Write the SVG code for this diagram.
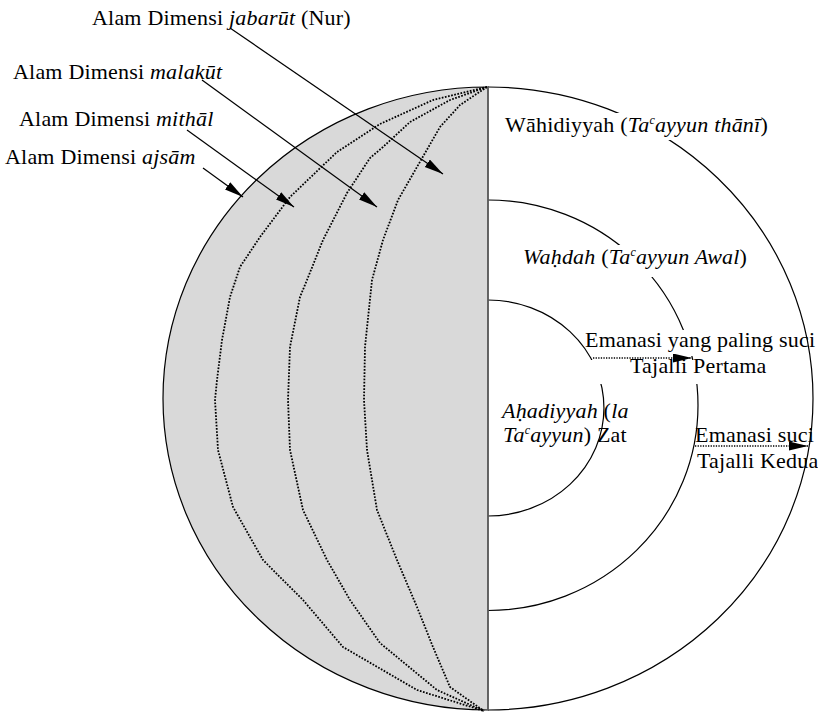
<svg xmlns="http://www.w3.org/2000/svg" width="818" height="713" viewBox="0 0 818 713">
<defs>
<marker id="ah" markerUnits="userSpaceOnUse" markerWidth="22" markerHeight="10" refX="19" refY="4.5" orient="auto" viewBox="0 0 22 10"><path d="M0,0 L19,4.5 L0,9 Z" fill="#000"/></marker>
</defs>
<style>
.t{font-family:'Liberation Serif','DejaVu Serif',serif;font-size:22px;fill:#000;letter-spacing:0.2px}
.i{font-style:italic}
.arc{fill:none;stroke:#000;stroke-width:1.2}
.dot{fill:none;stroke:#000;stroke-width:1.8;stroke-dasharray:1.7 1.5}
.lead{stroke:#000;stroke-width:1.2;fill:none;marker-end:url(#ah)}
.dlead{stroke:#000;stroke-width:1.3;stroke-dasharray:1.3 1.3;fill:none;marker-end:url(#ah)}
.mask{fill:#fff}
</style>
<rect width="818" height="713" fill="#fff"/>
<g id="alam">
<path d="M488,87 A325,311.5 0 0 0 488,710 Z" fill="#d9d9d9" stroke="#000" stroke-width="1.2"/>
<path class="dot" d="M487,87 L433,100 L380,124 L337,152 L290,197 L260,237 L240,267 L230,297 L222,340 L217,380 L215,400 L218,450 L233,507 L263,560 L303,600 L343,647 L417,690 L484,711"/>
<path class="dot" d="M487,87 L450,100 L410,122 L383,147 L370,158 L347,193 L323,240 L307,280 L300,297 L290,347 L288,400 L290,450 L303,510 L327,560 L350,600 L380,643 L437,690 L484,711"/>
<path class="dot" d="M487,87 L460,105 L440,127 L417,167 L398,200 L383,240 L372,280 L365,347 L364,400 L367,450 L377,510 L397,560 L417,607 L433,647 L450,687 L484,711"/>
</g>
<g id="ahadiyyah">
<path class="arc" d="M488,300 A116,108 0 0 1 488,516"/>
</g>
<g id="wahdah">
<path class="arc" d="M488,200 A210,205.25 0 0 1 488,610.5"/>
<rect class="mask" x="515" y="245" width="243" height="32"/>
</g>
<g id="emanasi1-bg">
<rect class="mask" x="590" y="330" width="210" height="26"/>
<rect class="mask" x="590" y="360" width="210" height="24"/>
</g>
<g id="wahidiyyah">
<path class="arc" d="M488,87 A325,311.5 0 0 1 488,710"/>
<rect class="mask" x="500" y="113" width="280" height="27"/>
</g>
<line id="axis" x1="488" y1="87" x2="488" y2="710" stroke="#666" stroke-width="1.6"/>
<g id="connectors">
<line class="lead" x1="230" y1="28" x2="443" y2="174"/>
<line class="lead" x1="202" y1="80" x2="377" y2="207"/>
<line class="lead" x1="187" y1="130" x2="294" y2="207"/>
<line class="lead" x1="203" y1="168" x2="243" y2="197"/>
<line class="dlead" x1="593" y1="358" x2="692" y2="358"/>
<line class="dlead" x1="695" y1="446" x2="808" y2="446"/>
</g>
<g font-family="'Liberation Serif','DejaVu Serif',serif" font-size="22">
<g id="label-jabarut"><text class="t" x="92" y="25">Alam Dimensi <tspan class="i">jabarūt</tspan> (Nur)</text></g>
<g id="label-malakut"><text class="t" x="13" y="79">Alam Dimensi <tspan class="i">malakūt</tspan></text></g>
<g id="label-mithal"><text class="t" x="19" y="126">Alam Dimensi <tspan class="i">mithāl</tspan></text></g>
<g id="label-ajsam"><text class="t" x="5" y="164">Alam Dimensi <tspan class="i">ajsām</tspan></text></g>
<g id="label-wahidiyyah"><text class="t" x="505" y="132">Wāhidiyyah (<tspan class="i">Ta</tspan><tspan class="i" font-size="12" dy="-8">c</tspan><tspan class="i" dy="8">ayyun thānī</tspan>)</text></g>
<g id="label-wahdah"><text class="t" x="523" y="264"><tspan class="i">Waḥdah</tspan> (<tspan class="i">Ta</tspan><tspan class="i" font-size="12" dy="-8">c</tspan><tspan class="i" dy="8">ayyun Awal</tspan>)</text></g>
<g id="label-emanasi1">
<text class="t" x="585" y="347">Emanasi yang paling suci</text>
<text class="t" x="630" y="373">Tajalli Pertama</text>
</g>
<g id="label-ahadiyyah">
<text class="t" x="502" y="418"><tspan class="i">Aḥadiyyah</tspan> (<tspan class="i">la</tspan></text>
<text class="t" x="503" y="442"><tspan class="i">Ta</tspan><tspan class="i" font-size="12" dy="-8">c</tspan><tspan class="i" dy="8">ayyun</tspan>) Zat</text>
</g>
<g id="label-emanasi2">
<text class="t" x="695" y="442">Emanasi suci</text>
<text class="t" x="697" y="468">Tajalli Kedua</text>
</g>
</g>
</svg>
